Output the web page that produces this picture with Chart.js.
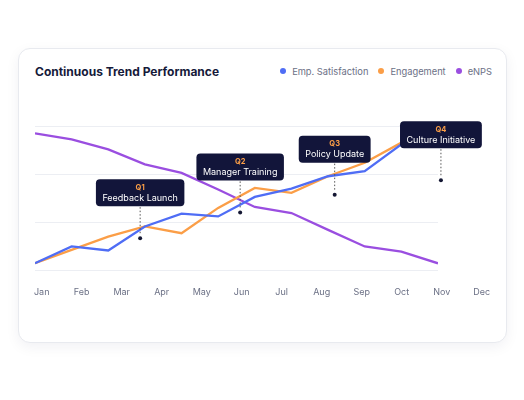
<!DOCTYPE html>
<html><head><meta charset="utf-8">
<script src="https://cdn.jsdelivr.net/npm/chart.js@4"></script>
<style>
html,body{margin:0;padding:0;background:#fff;width:524px;height:400px;overflow:hidden;font-family:Inter,"Noto Sans",sans-serif}
#card{position:absolute;left:18px;top:48px;width:487px;height:293px;border:1px solid #e8eaef;border-radius:12px;box-shadow:0 4px 14px rgba(20,25,60,0.06);background:#fff}
#title{position:absolute;left:35px;top:64px;font-size:12px;font-weight:700;color:#161a3a}
#legend{position:absolute;right:32px;top:66px;font-size:9.3px;color:#6b7085;display:flex;gap:10px}
#legend span i{display:inline-block;width:6px;height:6px;border-radius:50%;margin-right:6px;vertical-align:1px}
canvas{position:absolute;left:0;top:0}
</style></head><body>
<div id="card"></div>
<div id="title">Continuous Trend Performance</div>
<div id="legend"></div>
<canvas id="c" width="524" height="400"></canvas>
<script>
const months=["Jan","Feb","Mar","Apr","May","Jun","Jul","Aug","Sep","Oct","Nov","Dec"];
const satisfaction=[4.2,14.7,12.2,27.2,35.2,33.5,45.7,50.9,58.6,61.8,78.5,84];
const engagement=[4.2,12.6,20.9,27.2,23,38.8,51.3,48.2,58.6,67,79.6,85];
const enps=[85.4,81.7,75.4,66,60.7,50.3,39.4,35.6,25.1,14.7,11.5,4.2];
const seriesNames=["Emp. Satisfaction","Engagement","eNPS"];
const colors=["#4f6df5","#fb9e47","#9a4ee0"];
const noteX=[2.87,5.6,8.18,11.08];
const noteY=[19.9,36.0,47.1,56.1];
const noteQ=["Q1","Q2","Q3","Q4"];
const noteText=["Feedback Launch","Manager Training","Policy Update","Culture Initiative"];

document.getElementById('legend').innerHTML=seriesNames.map((n,i)=>`<span><i style="background:${colors[i]}"></i>${n}</span>`).join('');

const lineData=a=>a.map((v,i)=>({x:i,y:v}));
const notes={id:'notes',afterDatasetsDraw(chart){
  const ctx=chart.ctx,xs=chart.scales.x,ys=chart.scales.y;
  ctx.save();
  noteX.forEach((nx,i)=>{
    const px=xs.getPixelForValue(nx),py=ys.getPixelForValue(noteY[i]);
    ctx.fillStyle='#141733';
    ctx.beginPath();ctx.arc(px,py,2,0,Math.PI*2);ctx.fill();
    ctx.setLineDash([1.5,2]);ctx.strokeStyle='#555';ctx.lineWidth=1;
    ctx.beginPath();ctx.moveTo(px,py-5);ctx.lineTo(px,py-32);ctx.stroke();
    ctx.setLineDash([]);
    ctx.font='9px Inter';
    const w=ctx.measureText(noteText[i]).width+13,h=27;
    const bx=px-w/2,by=py-32-h;
    ctx.fillStyle='#12153a';
    ctx.beginPath();ctx.roundRect(bx,by,w,h,4);ctx.fill();
    ctx.textAlign='center';ctx.textBaseline='middle';
    ctx.fillStyle='#fb9e47';ctx.font='bold 7.5px Inter';
    ctx.fillText(noteQ[i],px,by+8.5);
    ctx.fillStyle='#fff';ctx.font='9px Inter';
    ctx.fillText(noteText[i],px,by+19);
  });
  ctx.restore();
}};

new Chart(document.getElementById('c'),{
  type:'line',
  data:{datasets:[
    {label:seriesNames[0],data:lineData(satisfaction),borderColor:colors[0]},
    {label:seriesNames[1],data:lineData(engagement),borderColor:colors[1]},
    {label:seriesNames[2],data:lineData(enps),borderColor:colors[2]}
  ].map(d=>Object.assign(d,{borderWidth:2.3,pointRadius:0,tension:0,fill:false}))},
  options:{responsive:false,animation:false,
    layout:{padding:{left:35,right:86,top:126,bottom:100}},
    plugins:{legend:{display:false},tooltip:{enabled:false}},
    scales:{
      x:{type:'linear',min:0,max:11,grid:{display:false},border:{display:false},
        afterBuildTicks(s){s.ticks=months.map((m,k)=>({value:0.183+1.0917*k}));},
        afterFit(s){s.height=30;},
        ticks:{autoSkip:false,maxRotation:0,padding:9,color:'#6b7085',font:{size:9,family:'Inter'},
          callback:(v,i)=>months[i]}},
      y:{min:0,max:90,ticks:{display:false,stepSize:30},border:{display:false},
        grid:{color:'#eceef3',drawTicks:false},afterFit(s){s.width=0;}}
    }},
  plugins:[notes]
});
</script></body></html>
